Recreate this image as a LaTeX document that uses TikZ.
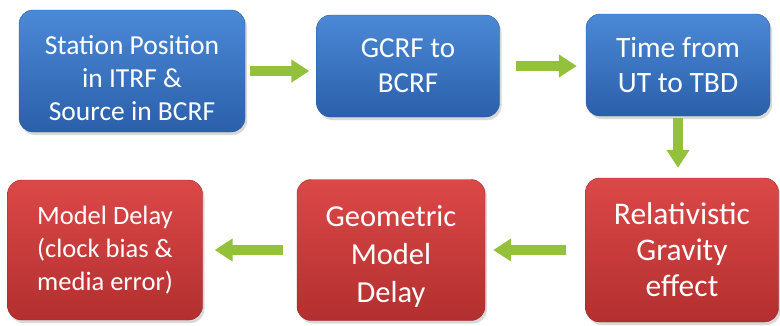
\documentclass[tikz,border=0pt]{standalone}
\usepackage{fontspec}
\setmainfont{Carlito}
\usetikzlibrary{shadows,arrows.meta}
\definecolor{bluetop}{HTML}{4B89D6}
\definecolor{bluebot}{HTML}{2B5FAA}
\definecolor{blueedge}{HTML}{2A5C9E}
\definecolor{redtop}{HTML}{DC4848}
\definecolor{redbot}{HTML}{B32F2F}
\definecolor{rededge}{HTML}{9E2A2A}
\definecolor{arrgreen}{HTML}{94C13C}
\begin{document}
\begin{tikzpicture}[
	x=1pt, y=-1pt,                          % toa do theo diem anh
	>={Triangle[width=22pt,length=18pt]},
	box/.style={rounded corners=14pt, align=center, text=white, inner sep=0pt,
		drop shadow={shadow xshift=2pt, shadow yshift=-3pt, opacity=0.3}},
	bluebox/.style={box, top color=bluetop, bottom color=bluebot, draw=blueedge},
	redbox/.style={box, top color=redtop, bottom color=redbot, draw=rededge},
	arr/.style={->, line width=10pt, arrgreen} % mui ten xanh la
	]
	\useasboundingbox (0,0) rectangle (780,325);
	% hang tren
	\node[bluebox, minimum width=226pt, minimum height=122pt, font=\fontsize{27.5}{33}\selectfont] (station) at (132,71)
		{\rule{0pt}{34pt}Station Position\\in ITRF \&\\Source in BCRF};
	\node[bluebox, minimum width=183pt, minimum height=102pt, font=\fontsize{29}{35}\selectfont] (gcrf) at (408,66)
		{GCRF to\\BCRF};
	\node[bluebox, minimum width=184pt, minimum height=102pt, font=\fontsize{29.5}{35}\selectfont] (time) at (678,65)
		{Time from\\UT to TBD};
	% hang duoi
	\node[redbox, minimum width=193pt, minimum height=144pt, font=\fontsize{31.5}{36}\selectfont] (gravity) at (682,250)
		{Relativistic\\Gravity\\effect};
	\node[redbox, minimum width=188pt, minimum height=141pt, font=\fontsize{30.5}{38}\selectfont] (geom) at (391,250)
		{\rule{0pt}{34pt}Geometric\\Model\\Delay};
	\node[redbox, minimum width=195pt, minimum height=140pt, font=\fontsize{26.5}{33}\selectfont] (delay) at (105,250)
		{Model Delay\\(clock bias \&\\media error)};
	% mui ten
	\draw[arr, shorten <=5pt, shorten >=7pt] (station.east) -- (station.east -| gcrf.west);
	\draw[arr, shorten <=16pt, shorten >=9pt] (gcrf.east) -- (gcrf.east -| time.west);
	\draw[arr, shorten <=2pt, shorten >=10pt] (time.south) -- (time.south |- gravity.north);
	\draw[arr, shorten <=19pt, shorten >=8pt] (gravity.west) -- (geom.east);
	\draw[arr, shorten <=14pt, shorten >=12pt] (geom.west) -- (delay.east);
\end{tikzpicture}
\end{document}
